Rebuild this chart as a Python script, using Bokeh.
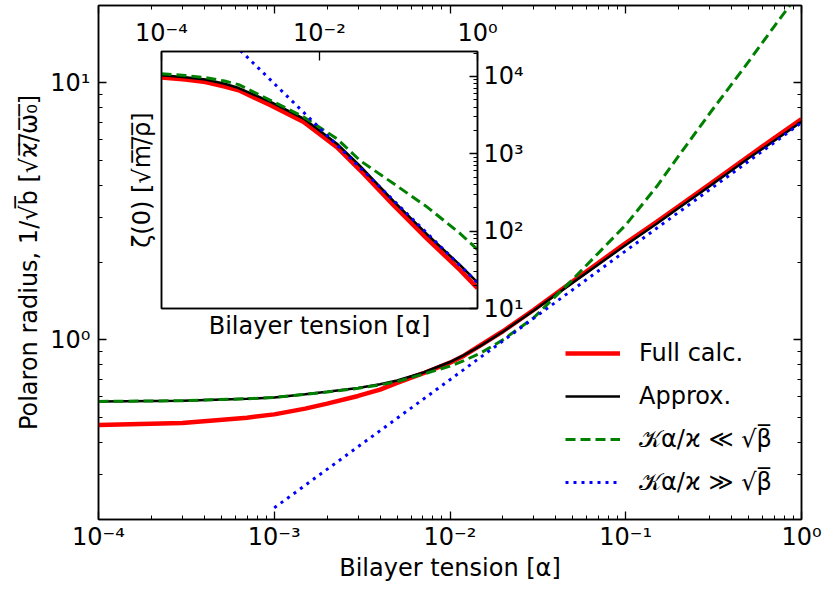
from bokeh.plotting import figure
from bokeh.models import LogAxis, FixedTicker, CustomJSTickFormatter, Range1d
from bokeh.embed import file_html
from bokeh.resources import INLINE

# ---------------- main panel data (polaron radius) ----------------
x_main = [1e-4, 3e-4, 7e-4, 1e-3, 1.5e-3, 2e-3, 3e-3, 4e-3, 5e-3, 7e-3, 1e-2, 1.2e-2,
          1.5e-2, 2e-2, 3e-2, 5e-2, 0.1, 0.15, 0.2, 0.3, 0.5, 0.7, 1.0]
full_main = [0.466, 0.475, 0.498, 0.513, 0.54, 0.565, 0.605, 0.64, 0.68, 0.74, 0.815, 0.868,
             0.955, 1.08, 1.31, 1.69, 2.38, 2.88, 3.31, 4.03, 5.18, 6.10, 7.22]
approx_main = [0.576, 0.580, 0.590, 0.597, 0.614, 0.628, 0.650, 0.672, 0.695, 0.745, 0.82, 0.872,
               0.95, 1.075, 1.30, 1.67, 2.34, 2.83, 3.26, 3.96, 5.09, 5.95, 7.05]
small_main = [0.576, 0.580, 0.590, 0.597, 0.614, 0.627, 0.648, 0.668, 0.688, 0.735, 0.79, 0.83,
              0.89, 1.00, 1.22, 1.72, 2.80, 3.95, 5.2, 7.6, 12.1, 16.6, 23.0]
x_large_main = [1e-3, 3e-3, 1e-2, 3e-2, 0.1, 0.3, 1.0]
large_main = [0.222, 0.384, 0.70, 1.215, 2.22, 3.84, 7.0]

# ---------------- inset data (zeta(0)) ----------------
x_inset = [1e-4, 2.0e-4, 3.6e-4, 6.3e-4, 9.5e-4, 2.4e-3, 6.3e-3, 1.66e-2, 3.28e-2, 8.65e-2,
           0.229, 0.603, 1.0]
full_inset = [9660, 9120, 8470, 7410, 6610, 4240, 2580, 1220, 612, 216, 80.2, 31.3, 18.3]
approx_inset = [10350, 9770, 9120, 8040, 7080, 4680, 2850, 1350, 692, 245, 91.2, 36.3, 21.6]
small_inset = [10860, 10280, 9660, 8710, 7830, 4910, 2990, 1570, 813, 412, 206, 93.1, 57.8]
x_large_inset = [1e-3, 1e-2, 0.1, 1.0]
large_inset = [21600, 2160, 216, 21.6]

# tick values
main_xticks = [1e-4, 1e-3, 1e-2, 1e-1, 1.0]
main_yticks = [1.0, 10.0]
inset_xticks = [1e-4, 1e-2, 1.0]
inset_yticks = [10.0, 100.0, 1000.0, 10000.0]

labels = ["Full calc.", "Approx.", "\U0001D4A6\u03b1/\u03f0 \u226a \u221a\u03b2\u0305",
          "\U0001D4A6\u03b1/\u03f0 \u226b \u221a\u03b2\u0305"]

FONT = "DejaVu Sans"
FS = "24px"
RED, BLACK, GREEN, BLUE = "#ff0000", "#000000", "#008000", "#0000ff"


def minors(lo_exp, hi_exp):
    return [m * 10.0 ** e for e in range(lo_exp, hi_exp + 1) for m in range(2, 10)]


sup_code = """
const sup = {'-':'\u207b','0':'\u2070','1':'\u00b9','2':'\u00b2','3':'\u00b3','4':'\u2074',
             '5':'\u2075','6':'\u2076','7':'\u2077','8':'\u2078','9':'\u2079'};
const e = Math.round(Math.log10(tick));
return '10' + String(e).split('').map(c => sup[c]).join('');
"""


def style_axis(ax, labels_on=True, major=8, minor=4):
    ax.axis_line_color = "black"
    ax.axis_line_width = 1.5
    ax.major_tick_in = major
    ax.major_tick_out = 0
    ax.minor_tick_in = minor
    ax.minor_tick_out = 0
    ax.major_tick_line_width = 1.3
    ax.minor_tick_line_width = 1.0
    ax.major_tick_line_color = "black"
    ax.minor_tick_line_color = "black"
    ax.axis_label_text_font = FONT
    ax.axis_label_text_font_size = FS
    ax.axis_label_text_font_style = "normal"
    ax.axis_label_text_color = "black"
    ax.major_label_text_font = FONT
    ax.major_label_text_color = "black"
    if labels_on:
        ax.major_label_text_font_size = FS
        ax.formatter = CustomJSTickFormatter(code=sup_code)
    else:
        ax.major_label_text_font_size = "0px"
        ax.formatter = CustomJSTickFormatter(code="return '';")
        ax.major_label_standoff = 0


# ---------------- main figure ----------------
p = figure(width=822, height=585, x_axis_type="log", y_axis_type="log",
           x_range=Range1d(1e-4, 1.0), y_range=Range1d(0.2, 20.0),
           output_backend="svg", toolbar_location=None,
           min_border_left=98, min_border_right=21, min_border_top=5, min_border_bottom=66)
p.xgrid.visible = False
p.ygrid.visible = False
p.outline_line_color = "black"
p.outline_line_width = 1.5

p.line(x_main, full_main, line_color=RED, line_width=4.5, legend_label=labels[0])
p.line(x_main, approx_main, line_color=BLACK, line_width=2.5, legend_label=labels[1])
p.line(x_main, small_main, line_color=GREEN, line_width=3, line_dash="10 5", legend_label=labels[2])
p.line(x_large_main, large_main, line_color=BLUE, line_width=3, line_dash="3 5", legend_label=labels[3])

main_xticker = FixedTicker(ticks=main_xticks, minor_ticks=minors(-4, -1))
main_yticker = FixedTicker(ticks=main_yticks, minor_ticks=minors(-1, 1))

xb = p.xaxis[0]
xb.ticker = main_xticker
xb.axis_label = "Bilayer tension [\u03b1]"
style_axis(xb)
xb.major_label_standoff = 3
xb.axis_label_standoff = 0

yl = p.yaxis[0]
yl.ticker = main_yticker
yl.axis_label = "Polaron radius, 1/\u221ab\u0305 [\u221a\u03f0\u0305/\u0305\u03c9\u0305\u2080\u0305]"
style_axis(yl)
yl.major_label_standoff = 8
yl.axis_label_standoff = 4

xa = LogAxis(ticker=main_xticker)
style_axis(xa, labels_on=False)
p.add_layout(xa, "above")
yr = LogAxis(ticker=main_yticker)
style_axis(yr, labels_on=False)
p.add_layout(yr, "right")

lg = p.legend[0]
lg.location = (467, 23)
lg.border_line_color = None
lg.background_fill_alpha = 0
lg.label_text_font = FONT
lg.label_text_font_size = FS
lg.label_text_color = "black"
lg.glyph_width = 55
lg.glyph_height = 28
lg.label_height = 28
lg.label_standoff = 19
lg.spacing = 15
lg.padding = 0
lg.margin = 0

# ---------------- inset figure ----------------
q = figure(width=407, height=331, x_axis_type="log", y_axis_type="log",
           x_range=Range1d(1e-4, 1.0), y_range=Range1d(10, 2.1e4),
           x_axis_location="above", y_axis_location="right",
           output_backend="svg", toolbar_location=None,
           min_border_left=41, min_border_right=50, min_border_top=37, min_border_bottom=37,
           styles={"position": "absolute", "left": "120px", "top": "14px"})
q.xgrid.visible = False
q.ygrid.visible = False
q.outline_line_color = "black"
q.outline_line_width = 1.5
q.border_fill_alpha = 0
q.background_fill_color = "white"

q.line(x_inset, full_inset, line_color=RED, line_width=4.5)
q.line(x_inset, approx_inset, line_color=BLACK, line_width=2.5)
q.line(x_inset, small_inset, line_color=GREEN, line_width=3, line_dash="10 5")
q.line(x_large_inset, large_inset, line_color=BLUE, line_width=3, line_dash="3 5")

qx = q.xaxis[0]
qx.ticker = FixedTicker(ticks=inset_xticks, minor_ticks=[])
style_axis(qx, major=9)
qx.major_label_standoff = 5

qy = q.yaxis[0]
qy.ticker = FixedTicker(ticks=inset_yticks, minor_ticks=minors(1, 4))
style_axis(qy)
qy.major_label_standoff = 6

ql = LogAxis(ticker=FixedTicker(ticks=[], minor_ticks=[]),
             axis_label="\u03b6(0) [\u221am\u0305/\u0305\u03c1\u0305]")
style_axis(ql, labels_on=False)
ql.axis_label_standoff = 6
q.add_layout(ql, "left")

qb = LogAxis(ticker=FixedTicker(ticks=[], minor_ticks=[]),
             axis_label="Bilayer tension [\u03b1]")
style_axis(qb, labels_on=False)
qb.axis_label_standoff = 3
q.add_layout(qb, "below")

open("out.html", "w").write(file_html([p, q], INLINE))
